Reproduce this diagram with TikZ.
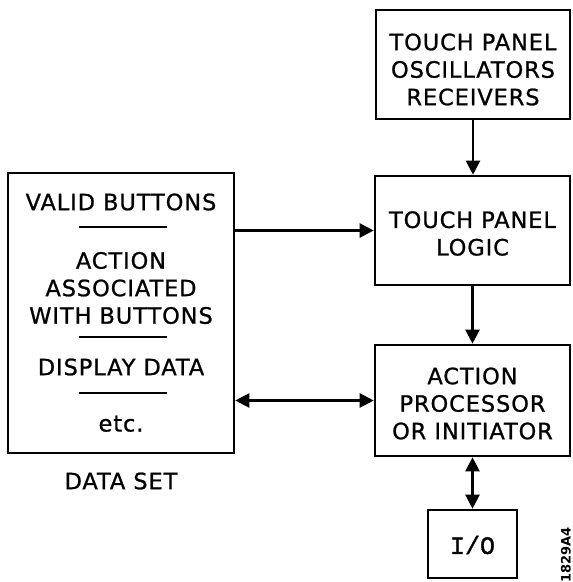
\documentclass[tikz,border=0pt]{standalone}
\usepackage{fontspec}
\setmainfont{DejaVu Sans}[LetterSpace=4,FakeBold=0.9]
\newfontfamily\iofont{Liberation Mono}[FakeBold=1.2]
\newfontfamily\tagfont{DejaVu Sans}
\usetikzlibrary{arrows.meta}
\begin{document}
\begin{tikzpicture}[x=1pt,y=-1pt,
  box/.style={draw,line width=2.6pt,inner sep=0pt},
  lbl/.style={font=\fontsize{22.5}{27.5}\selectfont,align=center,inner sep=0pt},
  conn/.style={line width=2.2pt},
  tip/.style={-{Triangle[length=14pt,width=14pt]}},
  dtip/.style={{Triangle[length=14pt,width=14pt]}-{Triangle[length=14pt,width=14pt]}},
  sep/.style={line width=2.2pt}]
\useasboundingbox (0,0) rectangle (573,582);
% boxes
\node[box,minimum width=194pt,minimum height=109pt] (osc) at (473,64.5) {};
\node[box,minimum width=195pt,minimum height=109pt] (logic) at (472.5,230.5) {};
\node[box,minimum width=195pt,minimum height=111pt] (action) at (472.5,400.5) {};
\node[box,minimum width=89pt,minimum height=68pt] (io) at (472.5,544) {};
\node[box,minimum width=226pt,minimum height=280pt] (data) at (121,313) {};
% texts in right boxes
\node[lbl] (osct) at (473,69.5) {TOUCH PANEL\\OSCILLATORS\\RECEIVERS};
\node[lbl] (logict) at (472.5,233.5) {TOUCH PANEL\\LOGIC};
\node[lbl] (actiont) at (472.5,403.5) {ACTION\\PROCESSOR\\OR INITIATOR};
\node[font=\iofont\fontsize{25}{25}\selectfont,inner sep=0pt] (iot) at (472.5,545) {I/O};
% texts in data box
\node[lbl] (d1) at (121,202) {VALID BUTTONS};
\node[lbl] (d2) at (121,288) {ACTION\\ASSOCIATED\\WITH BUTTONS};
\node[lbl] (d3) at (121,367) {DISPLAY DATA};
\node[lbl,anchor=base] (d4) at (121,431.5) {etc.};
\draw[sep] (79,227) -- (167,227);
\draw[sep] (79,337) -- (167,337);
\draw[sep] (79,393) -- (167,393);
\node[lbl] (dset) at (121,481) {DATA SET};
% tag
\node[rotate=90,font=\tagfont\bfseries\fontsize{13}{13}\selectfont,inner sep=0pt] (tag) at (566,555) {1829A4};
% connectors
\draw[conn,tip] (osc.south) -- (osc.south |- logic.north);
\draw[conn,tip] (logic.south) -- (logic.south |- action.north);
\draw[conn,dtip] (action.south) -- (action.south |- io.north);
\draw[conn,tip] (data.east |- logic.west) -- (logic.west);
\draw[conn,dtip] (data.east |- action.west) -- (action.west);
\end{tikzpicture}
\end{document}
